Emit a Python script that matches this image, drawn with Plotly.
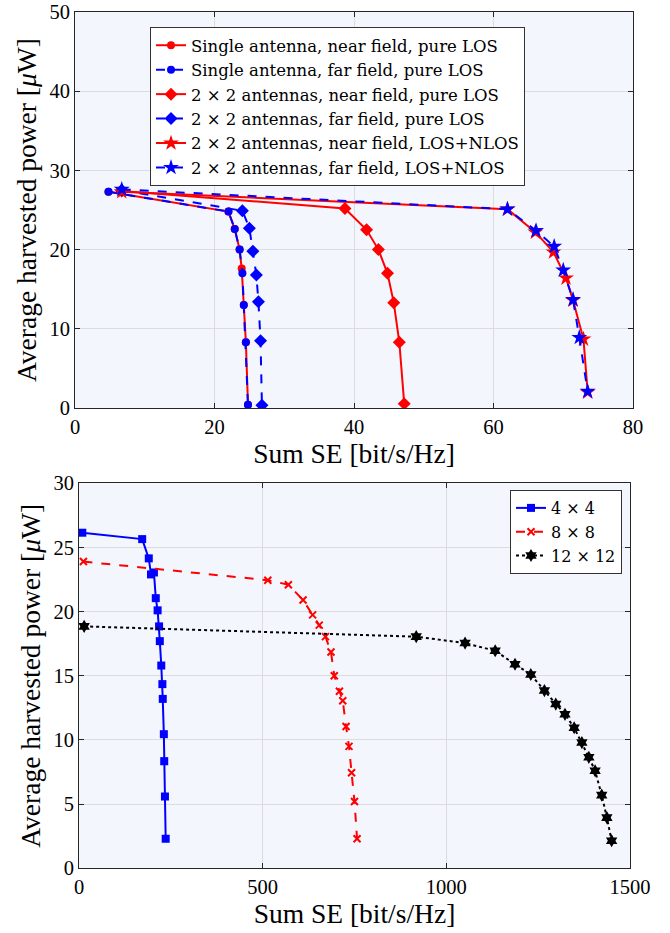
import plotly.graph_objects as go

# ---- Top panel data ----
single_near_x = [4.8, 22.0, 22.9, 23.6, 23.9, 24.2, 24.5, 24.8]
single_near_y = [27.3, 24.8, 22.6, 20.0, 17.6, 13.0, 8.3, 0.4]
single_far_x = [4.8, 22.0, 22.9, 23.6, 24.0, 24.2, 24.5, 24.8]
single_far_y = [27.3, 24.8, 22.6, 20.0, 17.0, 13.0, 8.3, 0.4]
ant2_near_x = [6.7, 38.7, 41.8, 43.5, 44.8, 45.7, 46.5, 47.2]
ant2_near_y = [27.4, 25.2, 22.5, 20.0, 17.0, 13.3, 8.3, 0.55]
ant2_far_x = [6.7, 24.0, 25.0, 25.5, 26.0, 26.3, 26.6, 26.8]
ant2_far_y = [27.5, 24.9, 22.7, 19.8, 16.8, 13.4, 8.5, 0.35]
nlos_near_x = [6.7, 62.0, 66.0, 68.6, 70.4, 71.4, 72.9, 73.5]
nlos_near_y = [27.3, 25.1, 22.2, 19.7, 16.4, 13.6, 8.7, 2.0]
nlos_far_x = [6.7, 62.0, 66.1, 68.7, 70.0, 71.4, 72.3, 73.5]
nlos_far_y = [27.6, 25.1, 22.4, 20.4, 17.4, 13.7, 8.9, 2.1]

# ---- Bottom panel data ----
a4_x = [9, 172, 190, 196, 204, 209, 214, 218, 220, 224, 227, 228, 231, 232, 234, 236]
a4_y = [26.15, 25.65, 24.15, 22.9, 23.05, 21.05, 20.1, 18.85, 17.7, 15.8, 14.35, 13.2, 10.45, 8.35, 5.6, 2.3]
a8_x = [12, 514, 570, 610, 636, 654, 671, 686, 695, 709, 718, 727, 735, 742, 750, 757]
a8_y = [23.9, 22.45, 22.1, 20.9, 19.75, 18.95, 18.05, 16.85, 15.0, 13.8, 13.05, 11.05, 9.5, 7.45, 5.2, 2.3]
a12_x = [14, 918, 1051, 1133, 1187, 1230, 1267, 1298, 1323, 1348, 1369, 1388, 1405, 1423, 1437, 1450]
a12_y = [18.85, 18.05, 17.55, 16.95, 15.9, 15.1, 13.85, 12.8, 12.0, 10.95, 9.8, 8.65, 7.6, 5.7, 3.95, 2.15]

RED = "#FF0000"
BLUE = "#0000FF"
FONT = "'Liberation Serif', 'Times New Roman', serif"
LEG_FONT = "'DejaVu Serif', 'Liberation Serif', serif"

def dx(px):
    return px / 670

def dy(py):
    return 1 - py / 933

fig = go.Figure()

def add(x, y, name, color, dash, symbol, size, xa, ya, legend, lw=2, mline=None):
    marker = dict(symbol=symbol, size=size, color=color)
    if mline is not None:
        marker["line"] = mline
    fig.add_trace(go.Scatter(
        x=x, y=y, name=name, mode="lines+markers",
        line=dict(color=color, width=lw, dash=dash),
        marker=marker, xaxis=xa, yaxis=ya, legend=legend))

add(single_near_x, single_near_y, "Single antenna, near field, pure LOS", RED, "solid", "circle", 8, "x", "y", "legend")
add(single_far_x, single_far_y, "Single antenna, far field, pure LOS", BLUE, "dash", "circle", 8, "x", "y", "legend")
add(ant2_near_x, ant2_near_y, "2 × 2 antennas, near field, pure LOS", RED, "solid", "diamond", 10, "x", "y", "legend")
add(ant2_far_x, ant2_far_y, "2 × 2 antennas, far field, pure LOS", BLUE, "dash", "diamond", 10, "x", "y", "legend")
add(nlos_near_x, nlos_near_y, "2 × 2 antennas, near field, LOS+NLOS", RED, "solid", "star", 12, "x", "y", "legend")
add(nlos_far_x, nlos_far_y, "2 × 2 antennas, far field, LOS+NLOS", BLUE, "dash", "star", 12, "x", "y", "legend")

add(a4_x, a4_y, "4 × 4", BLUE, "solid", "square", 8, "x2", "y2", "legend2")
add(a8_x, a8_y, "8 × 8", RED, "dash", "x-thin-open", 7, "x2", "y2", "legend2", mline=dict(color=RED, width=2))
add(a12_x, a12_y, "12 × 12", "#000000", "dot", "hexagram", 10, "x2", "y2", "legend2")

TITLE_FONT = dict(family=FONT, size=27.5, color="black")

axis_common = dict(
    showline=True, linecolor="#262626", linewidth=1, mirror="allticks",
    ticks="inside", ticklen=5, tickcolor="#262626",
    showgrid=True, gridcolor="#DCDCDC", gridwidth=1, zeroline=False,
    tickfont=dict(family=FONT, size=20.5, color="black"),
    ticklabeloverflow="allow",
    automargin=False,
)

fig.update_layout(
    width=670, height=933,
    margin=dict(l=0, r=0, t=0, b=0),
    paper_bgcolor="white",
    plot_bgcolor="#F3F7FD",
    font=dict(family=FONT, color="black"),
    xaxis=dict(axis_common, domain=[dx(75), dx(633)], range=[0, 80], dtick=20,
               anchor="y",
               title=dict(text="Sum SE [bit/s/Hz]", font=TITLE_FONT, standoff=2)),
    yaxis=dict(axis_common, domain=[dy(408), dy(12)], range=[0, 50], dtick=10,
               anchor="x",
               title=dict(text="Average harvested power [<i>μ</i>W]", font=TITLE_FONT, standoff=4)),
    xaxis2=dict(axis_common, domain=[dx(79), dx(630)], range=[0, 1500], dtick=500,
                anchor="y2",
                title=dict(text="Sum SE [bit/s/Hz]", font=TITLE_FONT, standoff=2)),
    yaxis2=dict(axis_common, domain=[dy(868.3), dy(483.3)], range=[0, 30], dtick=5,
                anchor="x2",
                title=dict(text="Average harvested power [<i>μ</i>W]", font=TITLE_FONT, standoff=4)),
    legend=dict(x=dx(150), y=dy(27), xanchor="left", yanchor="top",
                bgcolor="white", bordercolor="#333333", borderwidth=1,
                font=dict(family=LEG_FONT, size=16.5, color="black"), tracegroupgap=0,
                itemwidth=30),
    legend2=dict(x=dx(622), y=dy(490), xanchor="right", yanchor="top",
                 bgcolor="white", bordercolor="#333333", borderwidth=1,
                 font=dict(family=LEG_FONT, size=16, color="black"), tracegroupgap=0,
                 itemwidth=30),
    showlegend=True,
)

fig.write_html("out.html", config={"displayModeBar": False},
               post_script="document.body.style.margin='0px';")
